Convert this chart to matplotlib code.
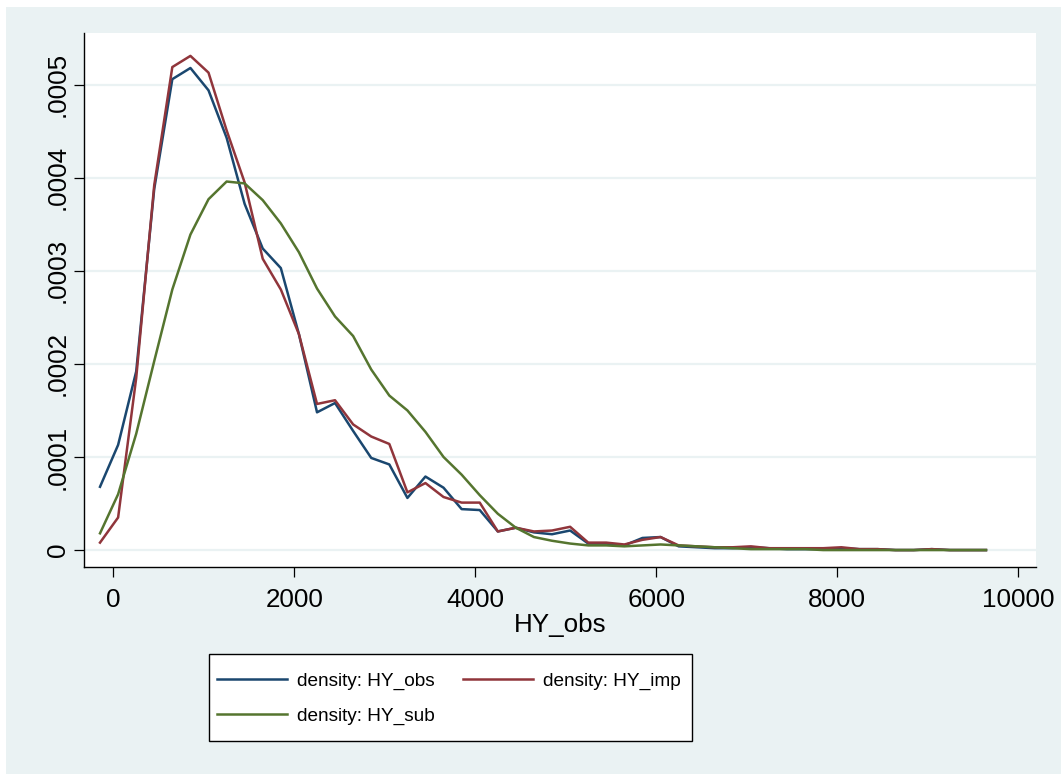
import matplotlib.pyplot as plt
from matplotlib.patches import Rectangle
import numpy as np

# evaluation points of the density estimates (HY_obs units)
x = [-147, 53, 253, 452, 652, 852, 1052, 1252, 1451, 1651,
     1851, 2051, 2251, 2450, 2650, 2850, 3050, 3250, 3449, 3649,
     3849, 4049, 4249, 4448, 4648, 4848, 5048, 5248, 5447, 5647,
     5847, 6047, 6247, 6446, 6646, 6846, 7046, 7246, 7445, 7645,
     7845, 8045, 8245, 8444, 8644, 8844, 9044, 9244, 9443, 9643]

# densities, in units of 1e-4
d_obs = [0.68, 1.13, 1.92, 3.88, 5.06, 5.18, 4.94, 4.43, 3.72, 3.24,
         3.03, 2.32, 1.48, 1.58, 1.28, 0.99, 0.92, 0.56, 0.79, 0.67,
         0.44, 0.43, 0.20, 0.24, 0.19, 0.17, 0.21, 0.07, 0.07, 0.05,
         0.13, 0.14, 0.04, 0.03, 0.02, 0.02, 0.03, 0.02, 0.01, 0.01,
         0.01, 0.02, 0.01, 0.01, 0.00, 0.00, 0.01, 0.00, 0.00, 0.00]
d_imp = [0.08, 0.35, 1.85, 3.92, 5.19, 5.31, 5.13, 4.51, 3.95, 3.13,
         2.80, 2.32, 1.57, 1.61, 1.35, 1.22, 1.14, 0.62, 0.72, 0.57,
         0.51, 0.51, 0.20, 0.24, 0.20, 0.21, 0.25, 0.08, 0.08, 0.06,
         0.11, 0.14, 0.05, 0.04, 0.03, 0.03, 0.04, 0.02, 0.02, 0.02,
         0.02, 0.03, 0.01, 0.01, 0.00, 0.00, 0.01, 0.00, 0.00, 0.00]
d_sub = [0.18, 0.60, 1.25, 2.03, 2.80, 3.39, 3.77, 3.96, 3.94, 3.76,
         3.51, 3.20, 2.81, 2.51, 2.30, 1.94, 1.66, 1.50, 1.27, 1.00,
         0.81, 0.59, 0.39, 0.24, 0.14, 0.10, 0.07, 0.05, 0.05, 0.04,
         0.05, 0.06, 0.05, 0.04, 0.03, 0.02, 0.01, 0.01, 0.01, 0.01,
         0.00, 0.00, 0.00, 0.00, 0.00, 0.00, 0.00, 0.00, 0.00, 0.00]

xticks = [0, 2000, 4000, 6000, 8000, 10000]
yticks = [0, 0.0001, 0.0002, 0.0003, 0.0004, 0.0005]
ytick_labels = ['0', '.0001', '.0002', '.0003', '.0004', '.0005']

bg = '#eaf2f3'
W, H = 1061, 774

plt.rcParams['font.family'] = ['Liberation Sans', 'DejaVu Sans']

fig = plt.figure(figsize=(W / 100, H / 100), dpi=100)
fig.patch.set_facecolor('white')
fig.add_artist(Rectangle((6 / W, 0), 1, 1 - 7 / H, transform=fig.transFigure,
                         facecolor=bg, edgecolor='none', zorder=0))

ax = fig.add_axes([84 / W, (H - 567) / H, (1036 - 84) / W, (567 - 33) / H])
ax.set_facecolor('white')

l1, = ax.plot(x, np.array(d_obs) * 1e-4, color='#1a476f', lw=1.8, label='density: HY_obs')
l2, = ax.plot(x, np.array(d_imp) * 1e-4, color='#90353b', lw=1.8, label='density: HY_imp')
l3, = ax.plot(x, np.array(d_sub) * 1e-4, color='#55752f', lw=1.8, label='density: HY_sub')

ax.set_xlim(-324, 10196)
ax.set_ylim(-0.0000182, 0.0005556)
ax.set_xticks(xticks)
ax.set_xticklabels([str(t) for t in xticks])
ax.set_yticks(yticks)
ax.set_yticklabels(ytick_labels, rotation=90, va='center')
ax.tick_params(labelsize=18.7, length=7.2, width=0.9, direction='out')
ax.tick_params(axis='x', pad=8)
ax.tick_params(axis='y', pad=3)

ax.grid(axis='y', color=bg, lw=1.6)
ax.set_axisbelow(True)
for s in ['top', 'right']:
    ax.spines[s].set_visible(False)
for s in ['left', 'bottom']:
    ax.spines[s].set_linewidth(1.0)

ax.set_xlabel('HY_obs', fontsize=18.7)
ax.xaxis.set_label_coords(0.5, -(625 - 567) / (567 - 33), transform=ax.transAxes)
ax.xaxis.label.set_va('center')

# legend box drawn by hand, legend entries placed inside it
fig.add_artist(Rectangle((209 / W, 1 - 741 / H), (692 - 209) / W, (741 - 654) / H,
                         transform=fig.transFigure, facecolor='white',
                         edgecolor='black', lw=1.0, zorder=3))
leg = fig.legend([l1, l3, l2], [l1.get_label(), l3.get_label(), l2.get_label()],
                 loc='upper left', bbox_to_anchor=(217 / W, 1 - 672 / H),
                 ncol=2, frameon=False, borderaxespad=0, borderpad=0,
                 prop={'size': 13.7},
                 handlelength=3.7, handletextpad=0.52, columnspacing=1.45,
                 labelspacing=0.95)
leg.set_zorder(4)

fig.savefig('out.png', dpi=100)
